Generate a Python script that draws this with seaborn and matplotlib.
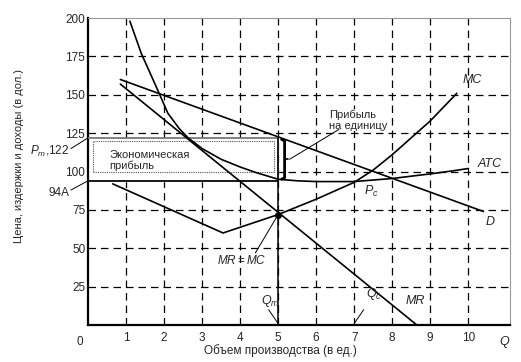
import matplotlib
matplotlib.use("Agg")
import matplotlib.pyplot as plt
import seaborn as sns
import pandas as pd

# ---- data ----
d_q = [0.85, 10.4]
d_p = [160, 74]

mr_q = [0.85, 8.65]
mr_p = [157, 0]

atc_q = [1.1, 1.4, 1.87, 2.1, 2.4, 2.63, 3.0, 3.5, 4.0, 4.4, 5.0, 5.5, 6.0, 7.0, 8.0, 9.0, 9.6, 10.0]
atc_p = [198, 177, 151, 138, 128, 122, 115, 108, 103, 99.5, 95, 94, 93.5, 93.5, 95.5, 98.5, 100.5, 102]

mc_q = [0.65, 3.55, 5.0, 6.0, 7.0, 7.5, 8.0, 8.5, 9.0, 9.7]
mc_p = [92, 60, 72, 82, 93, 101, 111, 122, 133, 151]

y_ticks = [25, 50, 75, 100, 125, 150, 175, 200]
x_ticks = [1, 2, 3, 4, 5, 6, 7, 8, 9, 10]
q_m, p_m, atc_m, mr_mc = 5, 122, 94, 72

sns.set_theme(style="white")
plt.rcParams["font.family"] = ["Liberation Sans", "DejaVu Sans"]
plt.rcParams["mathtext.fontset"] = "custom"
plt.rcParams["mathtext.it"] = "Liberation Sans:italic"
plt.rcParams["mathtext.rm"] = "Liberation Sans"

fig = plt.figure(figsize=(5.21, 3.62), dpi=100)
ax = fig.add_axes([0.169, 0.102, 0.81, 0.848])
ax.set_xlim(0, 11.1)
ax.set_ylim(0, 200)

# grid
dash = dict(color="black", lw=0.9, dashes=(6, 4), zorder=1)
for yv in [25, 50, 75, 100, 125, 150, 175]:
    ax.axhline(yv, **dash)
for xv in x_ticks:
    ax.axvline(xv, **dash)

# profit rectangle
ax.fill_between([0, q_m], atc_m, p_m, color="white", zorder=2)
ax.plot([0, q_m, q_m, 0], [p_m, p_m, atc_m, atc_m], color="#777777", lw=1.3, zorder=3)
ax.plot([0.12, 4.9, 4.9, 0.12, 0.12], [99.5, 99.5, 120, 120, 99.5], color="#555555",
        lw=0.8, ls=(0, (1, 1)), zorder=3)
ax.plot([q_m, q_m], [0, p_m], color="black", lw=1.1, zorder=4)
ax.plot([0, q_m], [atc_m, atc_m], color="black", lw=1.1, zorder=4)

# curves
df_d = pd.DataFrame({"q": d_q, "p": d_p})
df_mr = pd.DataFrame({"q": mr_q, "p": mr_p})
df_atc = pd.DataFrame({"q": atc_q, "p": atc_p})
df_mc = pd.DataFrame({"q": mc_q, "p": mc_p})
for df in (df_d, df_mr, df_atc, df_mc):
    sns.lineplot(data=df, x="q", y="p", ax=ax, color="black", lw=1.2, sort=False,
                 estimator=None, zorder=5)
ax.plot([q_m], [mr_mc], "o", color="black", ms=4, zorder=6)

# bracket "}"
bx = 5.17
ax.plot([bx - 0.08, bx, bx, bx - 0.08], [121, 120, 96, 95], color="black", lw=2, zorder=5)
ax.plot([bx, bx + 0.08], [108, 108], color="black", lw=1.2, zorder=5)

# labels on curves
it = dict(fontsize=9, style="italic", zorder=7)
ax.text(9.85, 158, "MC", **it)
ax.text(10.25, 103, "ATC", **it)
ax.text(10.45, 65, "D", **it)
ax.text(8.35, 14, "MR", **it)
ax.text(7.25, 85, "$P_c$", fontsize=9, zorder=7)
ax.text(4.55, 14, "$Q_m$", fontsize=9, zorder=7)
ax.text(7.3, 18, "$Q_c$", fontsize=9, zorder=7)
ax.plot([4.75, 5.0], [10, 1], color="black", lw=0.7)
ax.plot([7.0, 7.25], [1, 10], color="black", lw=0.7)

ax.text(3.4, 40, "$MR = MC$", fontsize=8.5, zorder=7)
ax.plot([4.4, 5.0], [47, mr_mc], color="black", lw=0.7, zorder=7)

ax.text(0.55, 107, "Экономическая\nприбыль", fontsize=8, linespacing=1.1, va="center", zorder=7)
ax.text(6.35, 133.5, "Прибыль\nна единицу", fontsize=8, linespacing=1.1, va="center", zorder=7,
        bbox=dict(facecolor="white", edgecolor="none", pad=0.5))
ax.plot([6.6, 5.3], [127.5, 108], color="black", lw=0.7, zorder=7)

# axes labels / ticks
ax.set_yticks(y_ticks)
ax.set_yticklabels([str(v) for v in y_ticks], fontsize=8.5)
ax.set_xticks(x_ticks)
ax.set_xticklabels([str(v) for v in x_ticks], fontsize=8.5)
ax.tick_params(axis="x", length=0, pad=5)
ax.tick_params(axis="y", length=0, pad=2)
ax.text(-0.22, -7, "0", fontsize=8.5, ha="center", va="top", clip_on=False)
ax.text(10.95, -7, "Q", fontsize=9, style="italic", ha="center", va="top", clip_on=False)

ax.text(-0.5, 113, "$P_m$,122", fontsize=8.5, ha="right", va="center", clip_on=False)
ax.plot([-0.45, 0], [115, 122], color="black", lw=0.7, clip_on=False)
ax.text(-0.5, 86, "94A", fontsize=8.5, ha="right", va="center", clip_on=False)
ax.plot([-0.45, 0], [88, atc_m], color="black", lw=0.7, clip_on=False)

ax.set_ylabel("Цена, издержки и доходы (в дол.)", fontsize=8)
ax.yaxis.set_label_coords(-0.152, 0.55)
ax.set_xlabel("Объем производства (в ед.)", fontsize=8.5)
ax.xaxis.set_label_coords(0.455, -0.062)

for s in ["left", "bottom"]:
    ax.spines[s].set_color("black")
    ax.spines[s].set_linewidth(1.6)
for s in ["top", "right"]:
    ax.spines[s].set_color("#999999")
    ax.spines[s].set_linewidth(0.8)

fig.savefig("out.png", dpi=100)
